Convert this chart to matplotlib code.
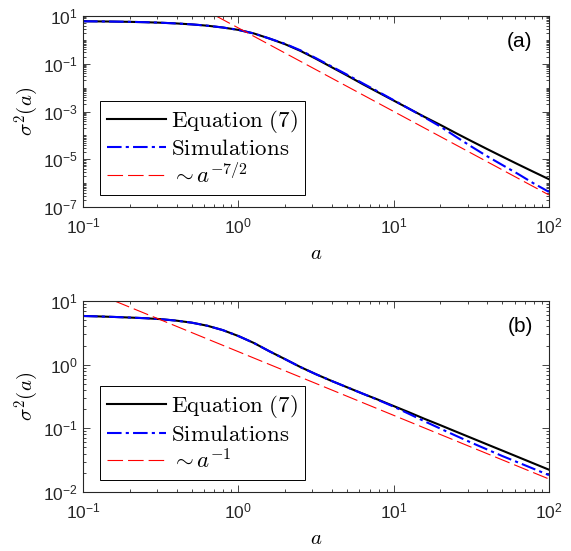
import numpy as np
import matplotlib
matplotlib.use("Agg")
import matplotlib.pyplot as plt
from matplotlib.ticker import LogLocator, NullFormatter

plt.rcParams['font.family'] = ['Liberation Sans', 'DejaVu Sans']
plt.rcParams['mathtext.fontset'] = 'cm'

# shared a grid (read at equal log steps)
a_vals = [0.1, 0.126, 0.158, 0.2, 0.251, 0.316, 0.398, 0.501, 0.631, 0.794,
          1.0, 1.26, 1.58, 2.0, 2.51, 3.16, 3.98, 5.01, 6.31, 7.94,
          10, 12.6, 15.8, 20, 25.1, 31.6, 39.8, 50.1, 63.1, 79.4, 100]

# --- panel (a) values ---
eq_top = [6.03, 5.96, 5.86, 5.71, 5.52, 5.25, 4.90, 4.47, 3.94, 3.31,
          2.63, 1.86, 1.15, 0.661, 0.347, 0.162, 0.0724, 0.0324, 0.0141, 6.38e-3,
          2.88e-3, 1.30e-3, 5.96e-4, 2.75e-4, 1.26e-4, 5.82e-5, 2.72e-5, 1.29e-5,
          6.17e-6, 2.99e-6, 1.46e-6]
sim_top = [6.03, 5.96, 5.86, 5.71, 5.52, 5.25, 4.90, 4.47, 3.94, 3.31,
           2.63, 1.86, 1.15, 0.684, 0.367, 0.172, 0.0776, 0.0351, 0.0153, 6.84e-3,
           2.99e-3, 1.30e-3, 5.69e-4, 2.34e-4, 8.91e-5, 3.43e-5, 1.36e-5, 5.75e-6,
           2.45e-6, 9.9e-7, 4.3e-7]
a_fit_top = [0.72, 100]
fit_top = [10, 3.2e-7]

# --- panel (b) values ---
eq_bot = [5.82, 5.73, 5.62, 5.50, 5.37, 5.19, 4.92, 4.57, 4.09, 3.49,
          2.82, 2.19, 1.63, 1.22, 0.918, 0.708, 0.556, 0.442, 0.351, 0.282,
          0.224, 0.178, 0.141, 0.112, 0.0891, 0.0708, 0.0562, 0.0447, 0.0355,
          0.0282, 0.0224]
sim_bot = [5.82, 5.73, 5.62, 5.50, 5.37, 5.19, 4.92, 4.57, 4.09, 3.49,
           2.82, 2.19, 1.63, 1.22, 0.918, 0.708, 0.556, 0.442, 0.351, 0.279,
           0.219, 0.168, 0.129, 0.0989, 0.0767, 0.0596, 0.0468, 0.0367, 0.0292,
           0.0232, 0.0184]
a_fit_bot = [0.16, 100]
fit_bot = [10, 0.016]

panels = [
    dict(eq=eq_top, sim=sim_top, af=a_fit_top, fit=fit_top,
         fit_label=r'$\sim a^{-7/2}$', ylim=(1e-7, 1e1),
         yticks=[1e-7, 1e-5, 1e-3, 1e-1, 1e1], tag='(a)'),
    dict(eq=eq_bot, sim=sim_bot, af=a_fit_bot, fit=fit_bot,
         fit_label=r'$\sim a^{-1}$', ylim=(1e-2, 1e1),
         yticks=[1e-2, 1e-1, 1e0, 1e1], tag='(b)'),
]

fig = plt.figure(figsize=(5.71, 5.51), dpi=100)
rects = [[0.1454, 0.6243, 0.816, 0.3466], [0.1454, 0.1071, 0.816, 0.3466]]
gray = '#262626'

for rect, p in zip(rects, panels):
    ax = fig.add_axes(rect)
    ax.set_xscale('log')
    ax.set_yscale('log')
    ax.plot(a_vals, p['eq'], color='k', lw=1.5, label=r'$\mathrm{Equation\ (7)}$')
    ax.plot(a_vals, p['sim'], color='b', lw=1.5, dashes=(7, 2, 1.5, 2),
            label=r'$\mathrm{Simulations}$')
    ax.plot(p['af'], p['fit'], color='r', lw=0.8, dashes=(14, 4.5),
            label=p['fit_label'])
    ax.set_xlim(0.1, 100)
    ax.set_ylim(*p['ylim'])
    ax.set_yticks(p['yticks'])
    ax.yaxis.set_minor_locator(LogLocator(base=10, subs=np.arange(1, 10), numticks=20))
    ax.yaxis.set_minor_formatter(NullFormatter())
    ax.xaxis.set_minor_locator(LogLocator(base=10, subs=np.arange(2, 10), numticks=20))
    ax.xaxis.set_minor_formatter(NullFormatter())
    ax.tick_params(which='both', direction='in', top=True, right=True,
                   color=gray, labelcolor=gray, width=0.6)
    ax.tick_params(which='major', length=5, labelsize=12.5)
    ax.tick_params(axis='x', which='major', pad=7)
    ax.tick_params(axis='y', which='major', pad=4)
    ax.tick_params(which='minor', length=2.5)
    for s in ax.spines.values():
        s.set_color(gray)
        s.set_linewidth(0.8)
    ax.set_xlabel(r'$a$', fontsize=15, labelpad=5)
    ax.set_ylabel(r'$\sigma^2(a)$', fontsize=15, labelpad=1)
    ax.text(0.965, 0.915, p['tag'], transform=ax.transAxes, ha='right', va='top',
            fontsize=15, color='k')
    leg = ax.legend(loc='lower left', bbox_to_anchor=(0.0365, 0.063),
                    borderaxespad=0, fontsize=16.5, handlelength=2.6,
                    handletextpad=0.2, borderpad=0.3, labelspacing=0.12,
                    fancybox=False, framealpha=1, edgecolor='k')
    leg.get_frame().set_linewidth(0.7)

fig.savefig('out.png', dpi=100)
